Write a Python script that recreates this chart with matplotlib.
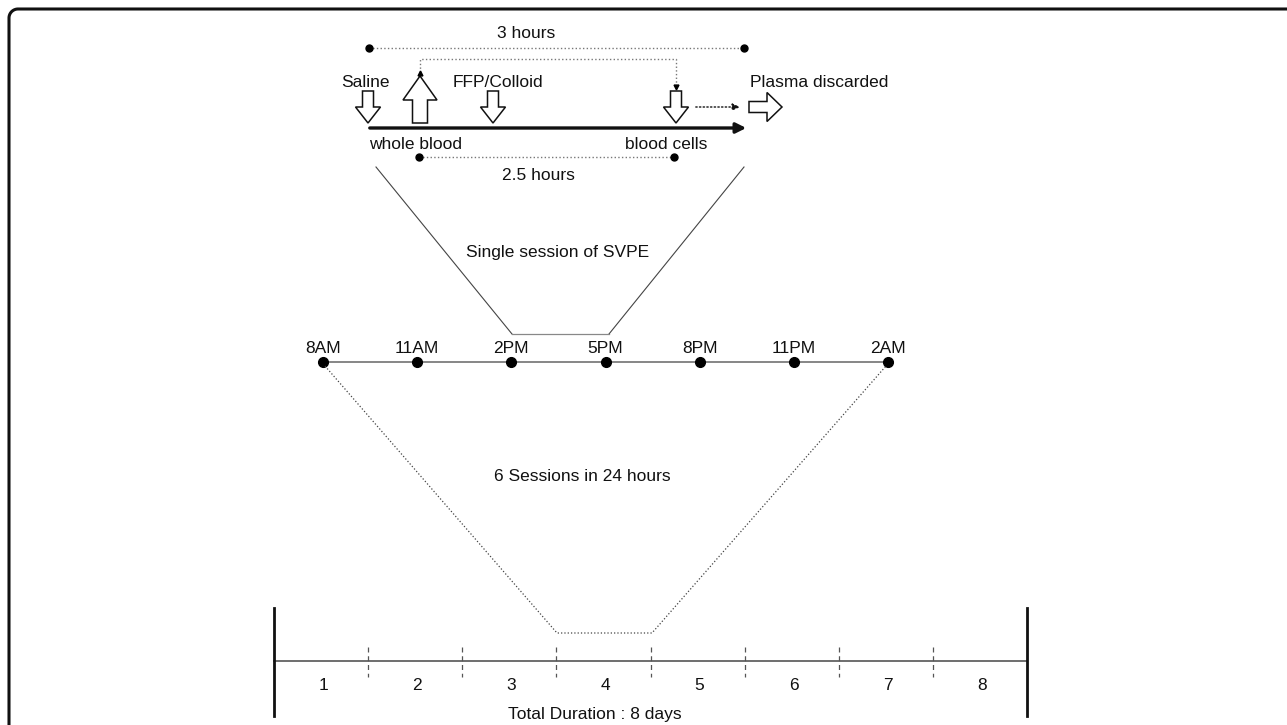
import matplotlib
matplotlib.use('Agg')
import matplotlib.pyplot as plt
from matplotlib.patches import Polygon
import numpy as np

# values shown on the diagram
session_hours = 3
exchange_hours = 2.5
session_times = ['8AM', '11AM', '2PM', '5PM', '8PM', '11PM', '2AM']
day_labels = ['1', '2', '3', '4', '5', '6', '7', '8']
sessions_per_day = 6
total_days = 8

plt.rcParams['font.family'] = ['Liberation Sans', 'DejaVu Sans']
FS = 12.5
TXT = '#111111'

fig = plt.figure(figsize=(12.87, 7.25), dpi=100)
ax = fig.add_axes([0, 0, 1, 1])
ax.set_xlim(0, 1287)
ax.set_ylim(725, 0)
ax.axis('off')

# frame: only the top and left edges, rounded corner
r = 9
t = np.linspace(np.pi, 1.5 * np.pi, 20)
fx = np.concatenate([[9], 9 + r + r * np.cos(t), [1287]])
fy = np.concatenate([[725], 9 + r + r * np.sin(t), [9]])
ax.plot(fx, fy, color='#111111', lw=2.2, solid_capstyle='butt', clip_on=False)


def down_arrow(cx, top, bot, hs=5.5, hh=12.5, hl=16):
    pts = [(cx - hs, top), (cx + hs, top), (cx + hs, bot - hl), (cx + hh, bot - hl),
           (cx, bot), (cx - hh, bot - hl), (cx - hs, bot - hl)]
    ax.add_patch(Polygon(pts, closed=True, fc='white', ec='#111111', lw=1.1))


def up_arrow(cx, bot, tip, hs=7.5, hh=17, hl=24):
    pts = [(cx - hs, bot), (cx + hs, bot), (cx + hs, tip + hl), (cx + hh, tip + hl),
           (cx, tip), (cx - hh, tip + hl), (cx - hs, tip + hl)]
    ax.add_patch(Polygon(pts, closed=True, fc='white', ec='#111111', lw=1.1))


def right_arrow(left, tip, cy, hs=5.5, hh=14.5, hl=15):
    pts = [(left, cy - hs), (tip - hl, cy - hs), (tip - hl, cy - hh), (tip, cy),
           (tip - hl, cy + hh), (tip - hl, cy + hs), (left, cy + hs)]
    ax.add_patch(Polygon(pts, closed=True, fc='white', ec='#111111', lw=1.1))


# ---- single session detail ----
ax.plot([369, 744], [48, 48], ls=':', color='#777777', lw=1)
ax.plot([369, 744], [48, 48], 'o', color='black', ms=5)
ax.text(526, 33, f'{session_hours} hours', ha='center', va='center', fontsize=FS, color=TXT)

# return loop from whole blood to blood cells
ax.plot([420, 420, 676, 676], [72, 59, 59, 86], ls=':', color='#777777', lw=1)
ax.plot([420], [73], marker='^', color='black', ms=3.5)
ax.plot([676], [87], marker='v', color='black', ms=3.5)

ax.text(365, 82, 'Saline', ha='center', va='center', fontsize=FS, color=TXT)
ax.text(498, 82, 'FFP/Colloid', ha='center', va='center', fontsize=FS, color=TXT)
ax.text(750, 82, 'Plasma discarded', ha='left', va='center', fontsize=FS, color=TXT)

down_arrow(368, 91, 123)
up_arrow(420, 123, 76)
down_arrow(493, 91, 123)
down_arrow(676, 91, 123)
right_arrow(749, 782, 107)

ax.annotate('', xy=(743, 107), xytext=(693, 107),
            arrowprops=dict(arrowstyle='-|>,head_length=0.45,head_width=0.2',
                            color='#111111', lw=1, ls=':'))
ax.annotate('', xy=(749, 128), xytext=(367, 128),
            arrowprops=dict(arrowstyle='-|>,head_length=0.6,head_width=0.3',
                            color='#111111', lw=2.4))

ax.text(369, 144, 'whole blood', ha='left', va='center', fontsize=FS, color=TXT)
ax.text(707, 144, 'blood cells', ha='right', va='center', fontsize=FS, color=TXT)

ax.plot([419, 674], [157, 157], ls=':', color='#777777', lw=1)
ax.plot([419, 674], [157, 157], 'o', color='black', ms=5)
ax.text(538, 175, f'{exchange_hours} hours', ha='center', va='center', fontsize=FS, color=TXT)

# zoom-out trapezoid (solid)
ax.plot([376, 512], [167, 334], color='#444444', lw=0.8)
ax.plot([744, 609], [167, 334], color='#444444', lw=0.8)
ax.plot([512, 609], [334, 334], color='#888888', lw=0.9)
ax.text(558, 252, 'Single session of SVPE', ha='center', va='center', fontsize=FS, color=TXT)

# ---- one day of sessions ----
tx = np.linspace(323, 888, len(session_times))
ax.plot(tx, np.full(len(tx), 362), color='#666666', lw=1.1)
ax.plot(tx, np.full(len(tx), 362), 'o', color='black', ms=7)
for x, lab in zip(tx, session_times):
    ax.text(x, 348, lab, ha='center', va='center', fontsize=FS, color=TXT)

# zoom-out trapezoid (dotted)
ax.plot([325, 557, 652, 886], [366, 633, 633, 366], ls=':', color='#444444', lw=0.9)
ax.text(582, 476, f'{sessions_per_day} Sessions in 24 hours', ha='center', va='center',
        fontsize=FS, color=TXT)

# ---- total duration ----
bx = np.linspace(274, 1027, total_days + 1)
ax.plot([bx[0], bx[-1]], [661, 661], color='#555555', lw=1.2)
for x in (bx[0], bx[-1]):
    ax.plot([x, x], [608, 716], color='#111111', lw=2)
for x in bx[1:-1]:
    ax.plot([x, x], [647, 677], color='#555555', lw=0.9, ls=(0, (4, 3)))
centers = (bx[:-1] + bx[1:]) / 2
for x, lab in zip(centers, day_labels):
    ax.text(x + 2, 685, lab, ha='center', va='center', fontsize=FS, color=TXT)
ax.text(595, 715, f'Total Duration : {total_days} days', ha='center', va='center',
        fontsize=FS, color=TXT)

plt.savefig('out.png', dpi=100)
